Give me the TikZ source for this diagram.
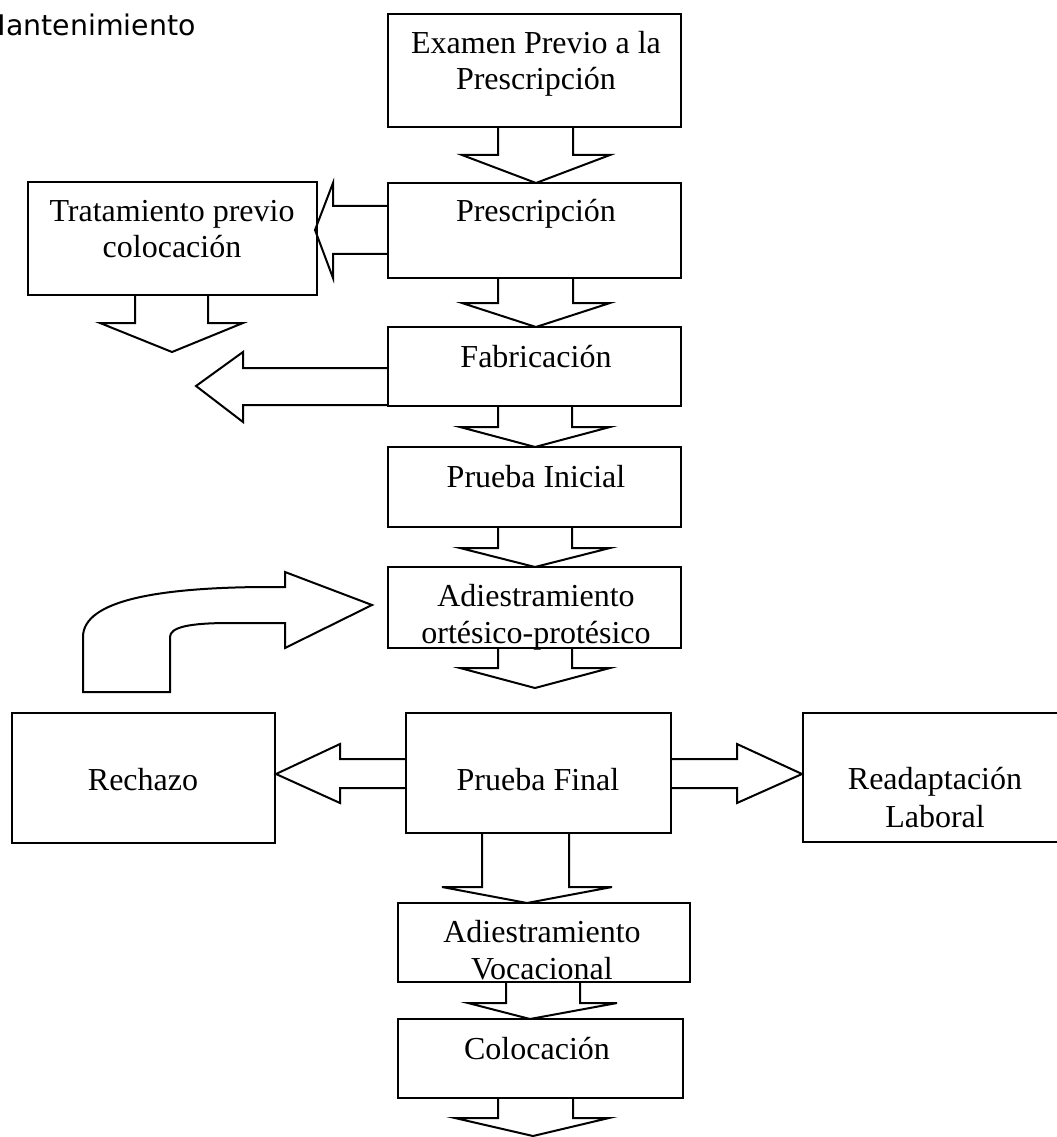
\documentclass[tikz,border=0pt]{standalone}
\usepackage{fontspec}
\setmainfont{Liberation Serif}
\newfontfamily\mantfont{DejaVu Sans}
% down block arrow: a b c d y0 y1 tx ty
\newcommand\DArrowFill[8]{\fill[white] (#1,#5+1.8) -- (#1,#6) -- (#3,#6) -- (#7,#8) -- (#4,#6) -- (#2,#6) -- (#2,#5+1.8) -- cycle;}
\newcommand\DArrowLine[8]{\draw[blkline] (#1,#5) -- (#1,#6) -- (#3,#6) -- (#7,#8) -- (#4,#6) -- (#2,#6) -- (#2,#5);}
% horizontal block arrow: x0 x1 ya yb yc yd tx ty
\newcommand\HArrowFill[8]{\fill[white] (#1,#3) -- (#2,#3) -- (#2,#5) -- (#7,#8) -- (#2,#6) -- (#2,#4) -- (#1,#4) -- cycle;}
\newcommand\HArrowLine[8]{\draw[blkline] (#1,#3) -- (#2,#3) -- (#2,#5) -- (#7,#8) -- (#2,#6) -- (#2,#4) -- (#1,#4);}
\begin{document}
\begin{tikzpicture}[x=0.75pt,y=-0.75pt,
  lbl/.style={font=\fontsize{24}{27.3}\selectfont, align=center, anchor=base, inner sep=0pt},
  boxst/.style={draw=black, line width=1.5pt},
  blkline/.style={draw=black, line width=1.5pt, line join=miter}]
\fill[white] (0,0) rectangle (1056,1137);
\useasboundingbox (0,0) rectangle (1056,1137);

% title
\node[font=\mantfont\fontsize{21.3}{25}\selectfont, anchor=base east, inner sep=0pt] (mant) at (196,36) {Mantenimiento};

% texts (anchor = baseline of last line)
\node[lbl] (t1) at (536,90) {Examen Previo a la\\Prescripción};
\node[lbl] (t2) at (536,222) {Prescripción};
\node[lbl] (t3) at (172,258) {Tratamiento previo\\colocación};
\node[lbl] (t4) at (536,367) {Fabricación};
\node[lbl] (t5) at (536,487) {Prueba Inicial};
\node[lbl] (t6) at (536,643) {Adiestramiento\\ortésico-protésico};
\node[lbl] (t7) at (143,790) {Rechazo};
\node[lbl] (t8) at (538,790) {Prueba Final};
\node[lbl, font=\fontsize{24}{28.5}\selectfont] (t9) at (935,827) {Readaptación\\Laboral};
\node[lbl] (t10) at (542,979) {Adiestramiento\\Vocacional};
\node[lbl] (t11) at (537,1059) {Colocación};

% arrow fills
\DArrowFill{498}{573}{462}{610}{127}{155}{536}{183}
\DArrowFill{498}{573}{462}{610}{278}{303}{536}{327}
\DArrowFill{498}{572}{460}{610}{406}{427}{535}{447}
\DArrowFill{498}{572}{460}{610}{527}{548}{535}{567}
\DArrowFill{498}{572}{460}{610}{648}{668}{535}{688}
\DArrowFill{482}{569}{442}{612}{833}{887}{527}{903}
\DArrowFill{506}{580}{468}{617}{982}{1003}{530}{1019}
\DArrowFill{498}{573}{455}{609}{1098}{1118}{533}{1136}
\DArrowFill{135}{208}{100}{243}{295}{323}{172}{352}
\HArrowFill{388}{333}{206}{254}{183}{278}{315}{230}
\HArrowFill{388}{243}{368}{405}{352}{422}{196}{386}
\HArrowFill{406}{340}{759}{788}{744}{803}{276}{774}
\HArrowFill{671}{737}{759}{788}{744}{803}{802}{774}

% boxes
\draw[boxst] (388,14) rectangle (681,127);
\draw[boxst] (388,183) rectangle (681,278);
\draw[boxst] (28,182) rectangle (317,295);
\draw[boxst] (388,327) rectangle (681,406);
\draw[boxst] (388,447) rectangle (681,527);
\draw[boxst] (388,567) rectangle (681,648);
\draw[boxst] (12,713) rectangle (275,843);
\draw[boxst] (406,713) rectangle (671,833);
\draw[boxst] (803,713) rectangle (1070,842);
\draw[boxst] (398,903) rectangle (690,982);
\draw[boxst] (398,1019) rectangle (683,1098);

% arrow outlines
\DArrowLine{498}{573}{462}{610}{127}{155}{536}{183}
\DArrowLine{498}{573}{462}{610}{278}{303}{536}{327}
\DArrowLine{498}{572}{460}{610}{406}{427}{535}{447}
\DArrowLine{498}{572}{460}{610}{527}{548}{535}{567}
\DArrowLine{498}{572}{460}{610}{648}{668}{535}{688}
\DArrowLine{482}{569}{442}{612}{833}{887}{527}{903}
\DArrowLine{506}{580}{468}{617}{982}{1003}{530}{1019}
\DArrowLine{498}{573}{455}{609}{1098}{1118}{533}{1136}
\DArrowLine{135}{208}{100}{243}{295}{323}{172}{352}
\HArrowLine{388}{333}{206}{254}{183}{278}{315}{230}
\HArrowLine{388}{243}{368}{405}{352}{422}{196}{386}
\HArrowLine{406}{340}{759}{788}{744}{803}{276}{774}
\HArrowLine{671}{737}{759}{788}{744}{803}{802}{774}

% curved return arrow
\draw[blkline, fill=white] (83,692) -- (83,637)
  .. controls (83,600) and (160,588) .. (260,587) -- (285,587)
  -- (285,572) -- (372,605) -- (285,648) -- (285,623) -- (230,623)
  .. controls (190,623) and (170,627) .. (170,637) -- (170,692) -- cycle;
\end{tikzpicture}
\end{document}
